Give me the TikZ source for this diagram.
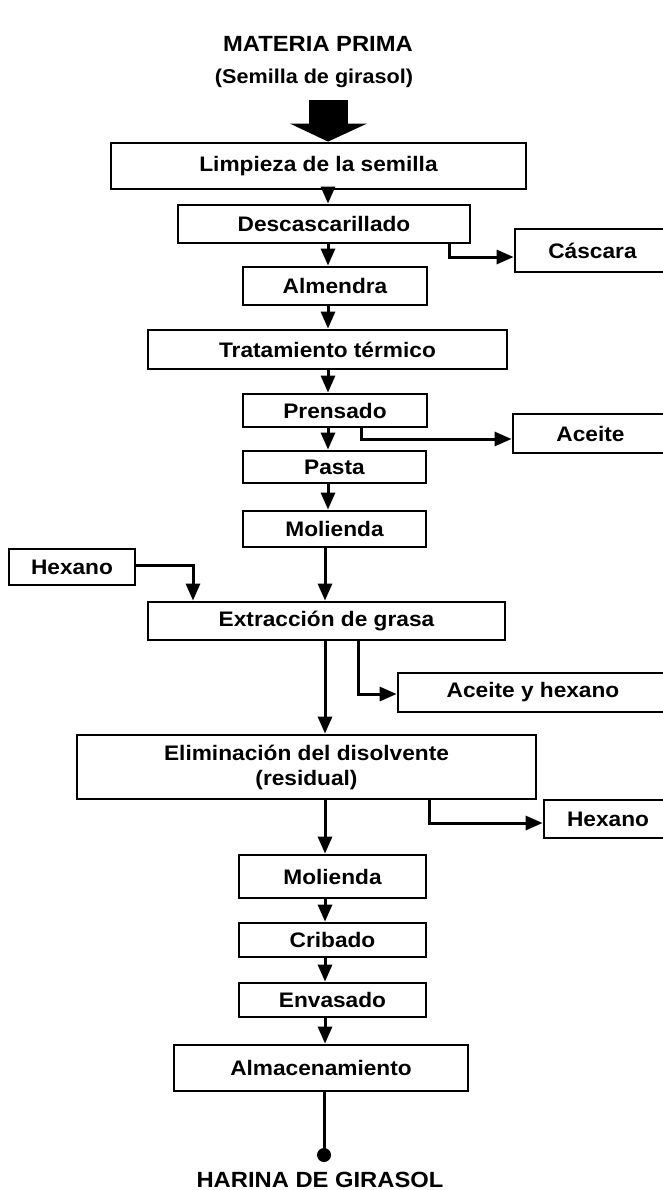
\documentclass[tikz,border=0pt]{standalone}
\usepackage{fontspec}
\setmainfont{Liberation Sans}[FakeStretch=1.08]
\usetikzlibrary{arrows.meta,calc}
\begin{document}
\begin{tikzpicture}[x=1pt,y=-1pt,
  box/.style={draw, line width=2.8pt, inner sep=0pt, font=\bfseries\fontsize{21}{25}\selectfont, align=center},
  flow/.style={line width=3pt, -{Triangle[length=17pt,width=14pt]}},
  plain/.style={line width=3pt},
  titletext/.style={inner sep=0pt, font=\bfseries\fontsize{21}{25}\selectfont}]
\useasboundingbox (0,0) rectangle (662,1190);
% titles
\node[titletext, font=\bfseries\fontsize{22}{26}\selectfont] (mp) at (318,44) {MATERIA PRIMA};
\node[titletext, font=\bfseries\fontsize{20}{24}\selectfont] (sem) at (314,78) {(Semilla de girasol)};
% boxes
\node[box,minimum width=415,minimum height=46] (lim) at (318.5,166) {Limpieza de la semilla};
\node[box,minimum width=292,minimum height=38] (desc) at (324,224) {Descascarillado};
\node[box,minimum width=155,minimum height=43] (casc) at (592.5,250.5) {Cáscara};
\node[box,minimum width=184,minimum height=38] (alm) at (335,286) {Almendra};
\node[box,minimum width=359,minimum height=39] (trat) at (327.5,349.5) {Tratamiento térmico};
\node[box,minimum width=184,minimum height=33] (pren) at (335,410.5) {Prensado};
\node[box,minimum width=155,minimum height=39] (ace) at (590.5,433.5) {Aceite};
\node[box,minimum width=183,minimum height=32] (pasta) at (334.5,467) {Pasta};
\node[box,minimum width=183,minimum height=36] (mol1) at (334.5,529) {Molienda};
\node[box,minimum width=126,minimum height=36] (hexL) at (72,567) {Hexano};
\node[box,minimum width=357,minimum height=38] (extr) at (326.5,621) {Extracción de grasa};
\node[box,minimum width=270,minimum height=39] (ayh) at (533,692.5) {Aceite y hexano};
\node[box,minimum width=459,minimum height=64] (elim) at (306.5,767) {Eliminación del disolvente\\(residual)};
\node[box,minimum width=128,minimum height=38] (hexR) at (608,819) {Hexano};
\node[box,minimum width=187,minimum height=43] (mol2) at (332.5,876.5) {Molienda};
\node[box,minimum width=187,minimum height=34] (crib) at (332.5,940) {Cribado};
\node[box,minimum width=187,minimum height=34] (env) at (332.5,1000) {Envasado};
\node[box,minimum width=294,minimum height=46] (almac) at (321,1068) {Almacenamiento};
\node[titletext, font=\bfseries\fontsize{22}{26}\selectfont] (harina) at (320,1180) {HARINA DE GIRASOL};
% axes and bends
\coordinate (ax1) at (328,0);
\coordinate (ax2) at (325,0);
\coordinate (c1) at (449,257);
\coordinate (c2) at (361,439);
\coordinate (c3) at (193,565);
\coordinate (c4) at (358,694);
\coordinate (c5) at (429,823);
\coordinate (endpt) at (324,1155);
% big input arrow
\fill ($(lim.north -| ax1)+(-19,-42)$) rectangle ($(lim.north -| ax1)+(20,-17)$);
\fill ($(lim.north -| ax1)+(-38,-18)$) -- ($(lim.north -| ax1)+(39,-18)$) -- (lim.north -| ax1) -- cycle;
% main flow
\draw[flow] (lim.south -| ax1) -- (desc.north -| ax1);
\draw[flow] (desc.south -| ax1) -- (alm.north -| ax1);
\draw[flow] (alm.south -| ax1) -- (trat.north -| ax1);
\draw[flow] (trat.south -| ax1) -- (pren.north -| ax1);
\draw[flow] (pren.south -| ax1) -- (pasta.north -| ax1);
\draw[flow] (pasta.south -| ax1) -- (mol1.north -| ax1);
\draw[flow] (mol1.south -| ax2) -- (extr.north -| ax2);
\draw[flow] (extr.south -| ax2) -- (elim.north -| ax2);
\draw[flow] (elim.south -| ax2) -- (mol2.north -| ax2);
\draw[flow] (mol2.south -| ax2) -- (crib.north -| ax2);
\draw[flow] (crib.south -| ax2) -- (env.north -| ax2);
\draw[flow] (env.south -| ax2) -- (almac.north -| ax2);
% side streams
\draw[flow] (desc.south -| c1) -- (c1) -- (c1 -| casc.west);
\draw[flow] (pren.south -| c2) -- (c2) -- (c2 -| ace.west);
\draw[flow] (hexL.east |- c3) -- (c3) -- (c3 |- extr.north);
\draw[flow] (extr.south -| c4) -- (c4) -- (c4 -| ayh.west);
\draw[flow] (elim.south -| c5) -- (c5) -- (c5 -| hexR.west);
% output
\draw[plain] (almac.south -| endpt) -- (endpt);
\fill (endpt) circle (7);
\end{tikzpicture}
\end{document}
